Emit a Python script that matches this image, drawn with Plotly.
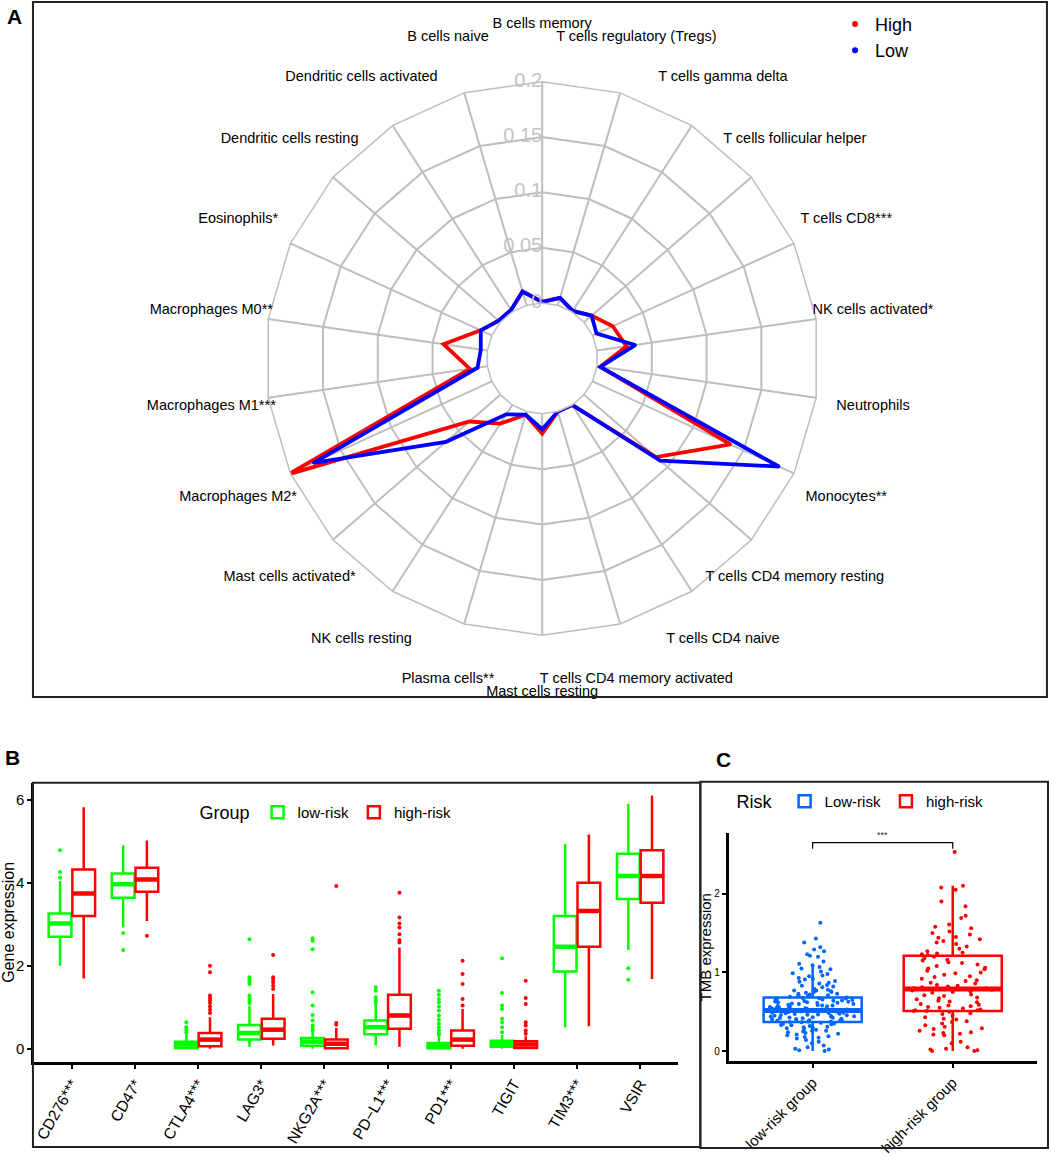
import plotly.graph_objects as go

# ---- panel A : immune cell radar ----
cells = ["B cells memory", "T cells regulatory (Tregs)", "T cells gamma delta",
         "T cells follicular helper", "T cells CD8***", "NK cells activated*",
         "Neutrophils", "Monocytes**", "T cells CD4 memory resting",
         "T cells CD4 naive", "T cells CD4 memory activated", "Mast cells resting",
         "Plasma cells**", "NK cells resting", "Mast cells activated*",
         "Macrophages M2*", "Macrophages M1***", "Macrophages M0**", "Eosinophils*",
         "Dendritic cells resting", "Dendritic cells activated", "B cells naive"]
high = [0.001, 0.007, 0.001, 0.009, 0.020, 0.027, 0.003, 0.137, 0.086, 0.000, 0.000,
        0.018, 0.003, 0.020, 0.037, 0.202, 0.016, 0.040, 0.011, 0.002, 0.002, 0.013]
low = [0.001, 0.007, 0.001, 0.009, 0.004, 0.035, 0.003, 0.185, 0.091, 0.000, 0.000,
       0.014, 0.003, 0.010, 0.065, 0.177, 0.009, 0.006, 0.011, 0.002, 0.002, 0.013]
radial_ticks = [0, 0.05, 0.1, 0.15, 0.2]
radial_text = ["0", "0.05", "0.1", "0.15", "0.2"]

# ---- panel B : checkpoint genes ----
genes = ["CD276***", "CD47*", "CTLA4***", "LAG3*", "NKG2A***", "PD−L1***",
         "PD1***", "TIGIT", "TIM3***", "VSIR"]
low_q1 = [2.70, 3.64, 0.02, 0.22, 0.07, 0.35, 0.01, 0.05, 1.86, 3.61]
low_med = [3.02, 3.96, 0.10, 0.38, 0.17, 0.52, 0.07, 0.12, 2.46, 4.16]
low_q3 = [3.26, 4.22, 0.17, 0.57, 0.26, 0.68, 0.14, 0.19, 3.20, 4.70]
low_lo = [2.00, 2.92, 0.00, 0.05, 0.00, 0.08, 0.00, 0.00, 0.52, 2.38]
low_hi = [4.04, 4.90, 0.36, 1.04, 0.41, 1.06, 0.30, 0.33, 4.94, 5.90]
high_q1 = [3.20, 3.78, 0.06, 0.24, 0.01, 0.48, 0.07, 0.02, 2.46, 3.52]
high_med = [3.74, 4.08, 0.22, 0.46, 0.12, 0.80, 0.22, 0.10, 3.32, 4.16]
high_q3 = [4.32, 4.36, 0.38, 0.72, 0.22, 1.30, 0.44, 0.18, 4.00, 4.78]
high_lo = [1.69, 3.08, 0.00, 0.08, 0.00, 0.05, 0.00, 0.00, 0.54, 1.68]
high_hi = [5.82, 5.02, 0.76, 1.32, 0.50, 2.44, 0.96, 0.30, 5.16, 6.10]
low_out = [[4.78, 4.26, 4.12], [2.79, 2.38], [0.64, 0.52, 0.45, 0.40],
           [2.64, 1.72, 1.66, 1.60, 1.56, 1.28, 1.22, 1.16, 1.10],
           [2.66, 2.60, 2.40, 1.36, 1.04, 0.81, 0.68, 0.56, 0.48, 0.44],
           [1.48, 1.40, 1.24, 1.16, 1.10],
           [1.40, 1.30, 1.20, 1.12, 1.02, 0.92, 0.80, 0.70, 0.60, 0.52, 0.44, 0.38, 0.34],
           [2.18, 1.34, 1.04, 0.96, 0.72, 0.64, 0.52, 0.40],
           [], [1.94, 1.66]]
high_out = [[], [2.72], [2.00, 1.84, 1.28, 1.22, 1.16, 1.10, 1.02, 0.94, 0.86],
            [2.26, 1.72, 1.66, 1.60, 1.52, 1.44], [3.92, 0.62, 0.58],
            [3.76, 3.16, 3.02, 2.92, 2.76, 2.62, 2.56],
            [2.12, 1.80, 1.56, 1.20, 1.04],
            [1.64, 1.22, 1.08, 0.64, 0.56, 0.44, 0.36], [], []]

# ---- panel C : TMB ----
risk_groups = ["low-risk group", "high-risk group"]
tmb_q1 = [0.37, 0.51]
tmb_med = [0.515, 0.79]
tmb_q3 = [0.68, 1.21]
tmb_lo = [0.0, 0.0]
tmb_hi = [1.08, 2.10]
tmb_low_pts = [1.63, 1.43, 1.38, 1.32, 1.29, 1.27, 1.23, 1.21, 1.20, 1.14, 1.11, 1.09,
               1.07, 1.05, 1.04, 1.01, 0.99, 0.98, 0.96, 0.95, 0.93, 0.92, 0.91, 0.89,
               0.88, 0.87, 0.86, 0.84, 0.83, 0.82, 0.81, 0.79, 0.78, 0.77, 0.77, 0.76,
               0.75, 0.75, 0.74, 0.73, 0.73, 0.72, 0.71, 0.71, 0.70, 0.70, 0.69, 0.68,
               0.675, 0.67, 0.668, 0.66, 0.657, 0.652, 0.65, 0.644, 0.64, 0.637, 0.63,
               0.627, 0.62, 0.618, 0.613, 0.61, 0.604, 0.60, 0.597, 0.59, 0.586, 0.58,
               0.578, 0.573, 0.57, 0.566, 0.56, 0.558, 0.552, 0.55, 0.546, 0.54, 0.538,
               0.533, 0.53, 0.527, 0.52, 0.518, 0.516, 0.514, 0.51, 0.508, 0.503, 0.50,
               0.497, 0.49, 0.487, 0.483, 0.48, 0.476, 0.47, 0.466, 0.462, 0.46, 0.455,
               0.45, 0.447, 0.443, 0.44, 0.436, 0.43, 0.428, 0.424, 0.42, 0.416, 0.41,
               0.407, 0.40, 0.398, 0.393, 0.39, 0.386, 0.38, 0.377, 0.372, 0.37,
               0.365, 0.36, 0.352, 0.347, 0.34, 0.333, 0.328, 0.32, 0.31, 0.303, 0.30,
               0.29, 0.28, 0.272, 0.26, 0.257, 0.25, 0.24, 0.23, 0.22, 0.21, 0.20,
               0.19, 0.18, 0.17, 0.16, 0.14, 0.12, 0.10, 0.07, 0.05, 0.03, 0.02, 0.01, 0.0]
tmb_high_pts = [2.53, 2.10, 2.08, 2.05, 1.90, 1.84, 1.72, 1.69, 1.61, 1.58, 1.56, 1.52,
                1.50, 1.48, 1.45, 1.44, 1.42, 1.40, 1.38, 1.36, 1.33, 1.30, 1.27, 1.25,
                1.24, 1.23, 1.22, 1.20, 1.18, 1.16, 1.15, 1.13, 1.12, 1.10, 1.08, 1.06,
                1.05, 1.04, 1.02, 1.00, 0.99, 0.97, 0.95, 0.94, 0.92, 0.90, 0.89, 0.87,
                0.86, 0.84, 0.83, 0.82, 0.81, 0.80, 0.80, 0.79, 0.78, 0.77, 0.76, 0.75,
                0.74, 0.72, 0.71, 0.70, 0.68, 0.67, 0.66, 0.64, 0.63, 0.62, 0.60, 0.59,
                0.58, 0.57, 0.56, 0.55, 0.54, 0.53, 0.52, 0.52, 0.51, 0.51, 0.50, 0.48,
                0.47, 0.45, 0.43, 0.41, 0.40, 0.38, 0.37, 0.35, 0.33, 0.31, 0.29, 0.28,
                0.26, 0.24, 0.23, 0.22, 0.21, 0.20, 0.12, 0.10, 0.05, 0.03, 0.02, 0.01,
                0.0, 0.0]

RED = "#FF0000"
BLUE = "#0000FF"
GREEN = "#00FF00"
CBLUE = "#0066FF"
GRID = "#BEBEBE"
FONT = "Liberation Sans, Arial, sans-serif"

fig = go.Figure()

# radar lines
for vals, col in [(high, RED), (low, BLUE)]:
    fig.add_trace(go.Scatterpolar(
        r=vals + [vals[0]], theta=cells + [cells[0]], mode="lines+markers",
        line=dict(color=col, width=3.8), marker=dict(size=3, color=col),
        showlegend=False, subplot="polar", hoverinfo="skip"))
for col, nm in [(RED, "High"), (BLUE, "Low")]:
    fig.add_trace(go.Scatterpolar(
        r=[None], theta=[None], mode="markers", name=nm,
        marker=dict(size=6, color=col), subplot="polar", legend="legend"))

# labels live on a second, larger (invisible) polar sharing the same centre
fig.add_trace(go.Scatterpolar(
    r=radial_ticks, theta=[cells[0]] * len(radial_ticks), mode="text",
    text=radial_text, textposition="middle left",
    textfont=dict(size=20, color="#C4C4C4", family=FONT),
    showlegend=False, subplot="polar2", hoverinfo="skip"))
fig.add_trace(go.Scatterpolar(
    r=[0.252] * len(cells), theta=cells, mode="text", text=cells,
    textposition="middle center", textfont=dict(size=14.5, color="black", family=FONT),
    showlegend=False, subplot="polar2", hoverinfo="skip"))

# panel B boxes
dodge = 0.1875
bw = 0.36
for q1, med, q3, lo, hi, outs, col, nm, off in [
        (low_q1, low_med, low_q3, low_lo, low_hi, low_out, GREEN, "low-risk", -dodge),
        (high_q1, high_med, high_q3, high_lo, high_hi, high_out, RED, "high-risk", dodge)]:
    pos = [i + off for i in range(len(genes))]
    fig.add_trace(go.Box(
        x=pos, q1=q1, median=med, q3=q3, lowerfence=lo, upperfence=hi,
        width=bw, whiskerwidth=0, boxpoints=False, name=nm, legend="legend2",
        line=dict(color=col, width=2.5), fillcolor="rgba(255,255,255,0)",
        xaxis="x", yaxis="y"))
    # thicker median bars, as in ggplot
    mx, my = [], []
    for p, m in zip(pos, med):
        mx += [p - bw / 2, p + bw / 2, None]
        my += [m, m, None]
    fig.add_trace(go.Scatter(x=mx, y=my, mode="lines", line=dict(color=col, width=4.5),
                             showlegend=False, xaxis="x", yaxis="y", hoverinfo="skip"))
    ox, oy = [], []
    for p, o in zip(pos, outs):
        ox += [p] * len(o)
        oy += o
    fig.add_trace(go.Scatter(
        x=ox, y=oy, mode="markers", marker=dict(size=4, color=col),
        showlegend=False, xaxis="x", yaxis="y", hoverinfo="skip"))

# panel C jitter + boxes
cw = 0.7
for i, (pts, col, nm) in enumerate([(tmb_low_pts, CBLUE, "Low-risk"),
                                    (tmb_high_pts, RED, "high-risk")]):
    fig.add_trace(go.Box(
        y=pts, x0=i, width=cw, boxpoints="all", jitter=0.95, pointpos=0,
        marker=dict(size=4, color=col), line=dict(width=0, color="rgba(0,0,0,0)"),
        fillcolor="rgba(0,0,0,0)", showlegend=False, xaxis="x2", yaxis="y2",
        hoveron="points"))
    fig.add_trace(go.Box(
        x=[i], q1=[tmb_q1[i]], median=[tmb_med[i]], q3=[tmb_q3[i]],
        lowerfence=[tmb_lo[i]], upperfence=[tmb_hi[i]], width=cw, whiskerwidth=0,
        boxpoints=False, name=nm, legend="legend3",
        line=dict(color=col, width=2.5), fillcolor="rgba(255,255,255,0)",
        xaxis="x2", yaxis="y2"))
    fig.add_trace(go.Scatter(
        x=[i - cw / 2, i + cw / 2], y=[tmb_med[i], tmb_med[i]], mode="lines",
        line=dict(color=col, width=5), showlegend=False, xaxis="x2", yaxis="y2",
        hoverinfo="skip"))

axis_common = dict(showgrid=False, zeroline=False, showline=True, linecolor="black",
                   linewidth=2.5, ticks="outside", ticklen=4, tickwidth=2,
                   tickcolor="black", mirror=False)

fig.update_layout(
    width=1052, height=1156, margin=dict(l=0, r=0, t=0, b=0),
    paper_bgcolor="white", plot_bgcolor="white",
    font=dict(family=FONT, color="black"),
    polar=dict(
        domain=dict(x=[0.25067, 0.77918], y=[0.44810, 0.92907]),
        hole=0.2, gridshape="linear", bgcolor="white",
        radialaxis=dict(range=[0, 0.2], tickvals=radial_ticks, showticklabels=False,
                        ticks="", gridcolor=GRID, gridwidth=1.5, showline=False, angle=90),
        angularaxis=dict(direction="clockwise", rotation=90, showticklabels=False,
                         ticks="", gridcolor=GRID, gridwidth=1.5, showline=True,
                         linecolor=GRID, linewidth=1.5)),
    polar2=dict(
        domain=dict(x=[0.18736, 0.84249], y=[0.39048, 0.98668]),
        hole=0.1625, bgcolor="rgba(0,0,0,0)",
        radialaxis=dict(range=[0, 0.26], visible=False, showgrid=False),
        angularaxis=dict(direction="clockwise", rotation=90, showticklabels=False,
                         ticks="", showgrid=False, showline=False)),
    xaxis=dict(domain=[0.0314, 0.6442], range=[-0.6, 9.6], anchor="y",
               tickvals=list(range(len(genes))), ticktext=genes, tickangle=-60,
               tickfont=dict(size=15.5, color="black"), **axis_common),
    yaxis=dict(domain=[0.0773, 0.320], range=[-0.32, 6.41], anchor="x",
               tickvals=[0, 2, 4, 6], tickfont=dict(size=15, color="black"),
               title=dict(text="Gene expression", font=dict(size=16, color="black"),
                          standoff=4),
               **axis_common),
    xaxis2=dict(domain=[0.6923, 0.9855], range=[-0.6, 1.6], anchor="y2",
                tickvals=[0, 1], ticktext=risk_groups, tickangle=-45,
                tickfont=dict(size=15, color="black"), **axis_common),
    yaxis2=dict(domain=[0.0779, 0.2762], range=[-0.13, 2.77], anchor="x2",
                tickvals=[0, 1, 2], tickfont=dict(size=10, color="black"),
                title=dict(text="TMB expression", font=dict(size=15, color="black"),
                           standoff=0),
                **axis_common),
    legend=dict(x=0.7936, y=0.995, xanchor="left", yanchor="top",
                font=dict(size=18), bgcolor="rgba(0,0,0,0)", itemwidth=30),
    legend2=dict(orientation="h", x=0.187, y=0.3085, xanchor="left", yanchor="top",
                 title=dict(text="Group", side="left"), font=dict(size=15),
                 bgcolor="rgba(0,0,0,0)"),
    legend3=dict(orientation="h", x=0.698, y=0.318, xanchor="left", yanchor="top",
                 title=dict(text="Risk ", side="left"), font=dict(size=15),
                 bgcolor="rgba(0,0,0,0)"),
    showlegend=True,
)

# panel frames
for x0, x1, y0, y1 in [(0.0304, 0.9952, 0.3945, 0.9983),
                       (0.0304, 0.6654, 0.0035, 0.3200),
                       (0.6654, 0.9962, 0.0026, 0.3209)]:
    fig.add_shape(type="rect", xref="paper", yref="paper", x0=x0, x1=x1, y0=y0, y1=y1,
                  line=dict(color="#222222", width=2))

# panel letters
for txt, x, y in [("A", 0.004, 0.997), ("B", 0.002, 0.354), ("C", 0.678, 0.352)]:
    fig.add_annotation(text=f"<b>{txt}</b>", x=x, y=y, xref="paper", yref="paper",
                       xanchor="left", yanchor="top", showarrow=False,
                       font=dict(size=21, color="black"))

# significance bracket in panel C
fig.add_shape(type="path", xref="x2", yref="y2",
              path="M 0,2.57 L 0,2.65 L 1,2.65 L 1,2.57",
              line=dict(color="black", width=1.2))
fig.add_annotation(text="***", x=0.5, y=2.66, xref="x2", yref="y2", yanchor="bottom",
                   showarrow=False, font=dict(size=9, color="#333333"))

fig.write_html("out.html", config={"displayModeBar": False},
               post_script="document.body.style.margin='0px';")
